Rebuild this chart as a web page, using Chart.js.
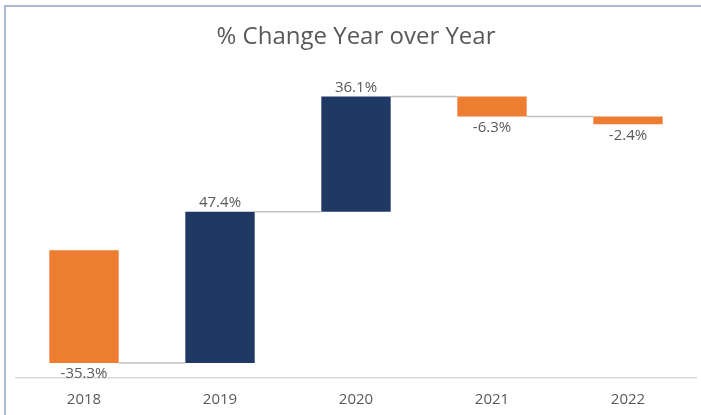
<!DOCTYPE html>
<html>
<head>
<meta charset="utf-8">
<script src="https://cdn.jsdelivr.net/npm/chart.js@4"></script>
<style>
  html, body { margin: 0; padding: 0; background: #fff; }
  #caja { width: 701px; height: 415px; position: relative; }
</style>
</head>
<body>
<div id="caja"><canvas id="grafico" width="701" height="415"></canvas></div>
<script>
// Datos
const anios = ["2018", "2019", "2020", "2021", "2022"];
const cambios = [-35.3, 47.4, 36.1, -6.3, -2.4];
const nivelInicial = 0;

const colorSube = "#203864";
const colorBaja = "#ED7D31";
const colorTexto = "#595959";

// Rangos de cada barra flotante (cascada)
let nivel = nivelInicial;
const rangos = cambios.map(c => {
    const r = [nivel, nivel + c];
    nivel += c;
    return r;
});

// Marco del gráfico y líneas conectoras
const marco = {
    id: "marco",
    beforeDraw(chart) {
        const ctx = chart.ctx;
        ctx.save();
        ctx.strokeStyle = "#8fa2c7";
        ctx.lineWidth = 1.5;
        ctx.beginPath();
        ctx.moveTo(5, 415);
        ctx.lineTo(5, 6);
        ctx.lineTo(701, 6);
        ctx.stroke();
        ctx.restore();
    },
    afterDatasetsDraw(chart) {
        const ctx = chart.ctx;
        const barras = chart.getDatasetMeta(0).data;
        const y = chart.scales.y;
        ctx.save();
        // conectores
        ctx.strokeStyle = "#bfbfbf";
        ctx.lineWidth = 1.5;
        for (let i = 0; i < barras.length - 1; i++) {
            const a = barras[i], b = barras[i + 1];
            const py = y.getPixelForValue(rangos[i][1]);
            ctx.beginPath();
            ctx.moveTo(a.x + a.width / 2, py);
            ctx.lineTo(b.x - b.width / 2, py);
            ctx.stroke();
        }
        // etiquetas
        ctx.fillStyle = colorTexto;
        ctx.font = "15px 'Open Sans'";
        ctx.textAlign = "center";
        ctx.textBaseline = "middle";
        barras.forEach((b, i) => {
            const py = y.getPixelForValue(rangos[i][1]);
            const txt = cambios[i].toFixed(1) + "%";
            if (cambios[i] >= 0) ctx.fillText(txt, b.x, py - 9);
            else ctx.fillText(txt, b.x, py + 11);
        });
        ctx.restore();
    }
};

new Chart(document.getElementById("grafico"), {
    type: "bar",
    data: {
        labels: anios,
        datasets: [{
            data: rangos,
            backgroundColor: cambios.map(c => c >= 0 ? colorSube : colorBaja),
            borderWidth: 0,
            barPercentage: 0.51,
            categoryPercentage: 1
        }]
    },
    options: {
        responsive: false,
        animation: false,
        layout: { padding: { left: 16, right: 5, top: 0, bottom: 1 } },
        plugins: {
            legend: { display: false },
            tooltip: { enabled: false },
            title: {
                display: true,
                text: "% Change Year over Year",
                color: colorTexto,
                font: { family: "'Open Sans'", size: 24, weight: "normal" },
                padding: { top: 23, bottom: 7 }
            }
        },
        scales: {
            x: {
                grid: { display: false },
                border: { color: "#d9d9d9", width: 1.5 },
                ticks: {
                    color: colorTexto,
                    font: { family: "'Open Sans'", size: 15 },
                    padding: 5
                }
            },
            y: {
                display: false,
                min: -40,
                max: 60
            }
        }
    },
    plugins: [marco]
});
</script>
</body>
</html>
